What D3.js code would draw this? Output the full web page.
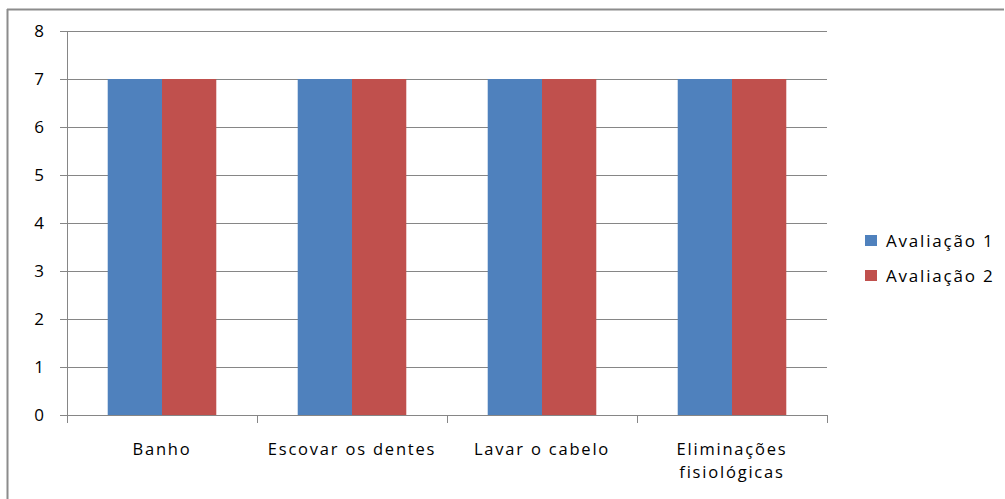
<!DOCTYPE html>
<html><head><meta charset="utf-8">
<script src="https://cdn.jsdelivr.net/npm/d3@7"></script>
<style>body{margin:0;background:#fff}svg{display:block}text{font-family:"Open Sans","Liberation Sans",sans-serif;fill:#000}</style>
</head><body>
<svg id="c" width="1005" height="499"></svg>
<script>
const categories = ["Banho", "Escovar os dentes", "Lavar o cabelo", "Eliminações fisiológicas"];
const categoryLines = [["Banho"], ["Escovar os dentes"], ["Lavar o cabelo"], ["Eliminações", "fisiológicas"]];
const seriesNames = ["Avaliação 1", "Avaliação 2"];
const avaliacao1 = [7, 7, 7, 7];
const avaliacao2 = [7, 7, 7, 7];
const yTicks = [0, 1, 2, 3, 4, 5, 6, 7, 8];
const colors = ["#4f81bd", "#c0504d"];

(function(){
const svg = d3.select("#c");
svg.append("line").attr("x1",7).attr("x2",1004).attr("y1",9.5).attr("y2",9.5).attr("stroke","#8c8c8c").attr("stroke-width",2);
svg.append("line").attr("x1",7.5).attr("x2",7.5).attr("y1",9).attr("y2",499).attr("stroke","#8c8c8c").attr("stroke-width",2);

const pl = 67, pr = 827, pt = 31, pb = 415;
const x = d3.scaleBand().domain(categories).range([pl, pr]).paddingInner(0).paddingOuter(0);
const y = d3.scaleLinear().domain([0, 8]).range([pb, pt]);

svg.append("g").selectAll("line").data(yTicks).join("line")
  .attr("x1", pl-7).attr("x2", pr).attr("y1", d=>Math.round(y(d))+0.5).attr("y2", d=>Math.round(y(d))+0.5)
  .attr("stroke","#868686").attr("stroke-width",1);

svg.append("line").attr("x1",pl+0.5).attr("x2",pl+0.5).attr("y1",pt).attr("y2",pb).attr("stroke","#868686");
svg.append("g").selectAll("line").data(d3.range(categories.length+1)).join("line")
  .attr("x1", i=>Math.round(pl + i*x.step())+0.5).attr("x2", i=>Math.round(pl + i*x.step())+0.5)
  .attr("y1", pb).attr("y2", pb+8).attr("stroke","#868686");

svg.append("g").selectAll("text").data(yTicks).join("text")
  .attr("x", 44).attr("y", d=>y(d)+6).attr("text-anchor","end").attr("font-size",17).text(d=>d);

const series = [avaliacao1, avaliacao2];
const groupW = x.bandwidth()*2/3.5;
const barW = groupW/2;
series.forEach((vals, s) => {
  svg.append("g").selectAll("rect").data(categories).join("rect")
    .attr("x", (c,i)=> x(c) + (x.bandwidth()-groupW)/2 + s*barW)
    .attr("y", (c,i)=> y(vals[i]))
    .attr("width", barW)
    .attr("height", (c,i)=> y(0)-y(vals[i]))
    .attr("fill", colors[s]);
});

categories.forEach((c,i) => {
  const t = svg.append("text").attr("text-anchor","middle").attr("font-size",16.5).attr("letter-spacing",1.8);
  categoryLines[i].forEach((ln,j) => {
    t.append("tspan").attr("x", x(c)+x.bandwidth()/2).attr("y", 455 + j*23).text(ln);
  });
});

seriesNames.forEach((n,i) => {
  const ly = 240 + i*35;
  svg.append("rect").attr("x",865).attr("y",ly-5).attr("width",12).attr("height",11).attr("fill",colors[i]);
  svg.append("text").attr("x",886).attr("y",ly+7).attr("font-size",17).attr("letter-spacing",1.8).text(n);
});
})();
</script>
</body></html>
